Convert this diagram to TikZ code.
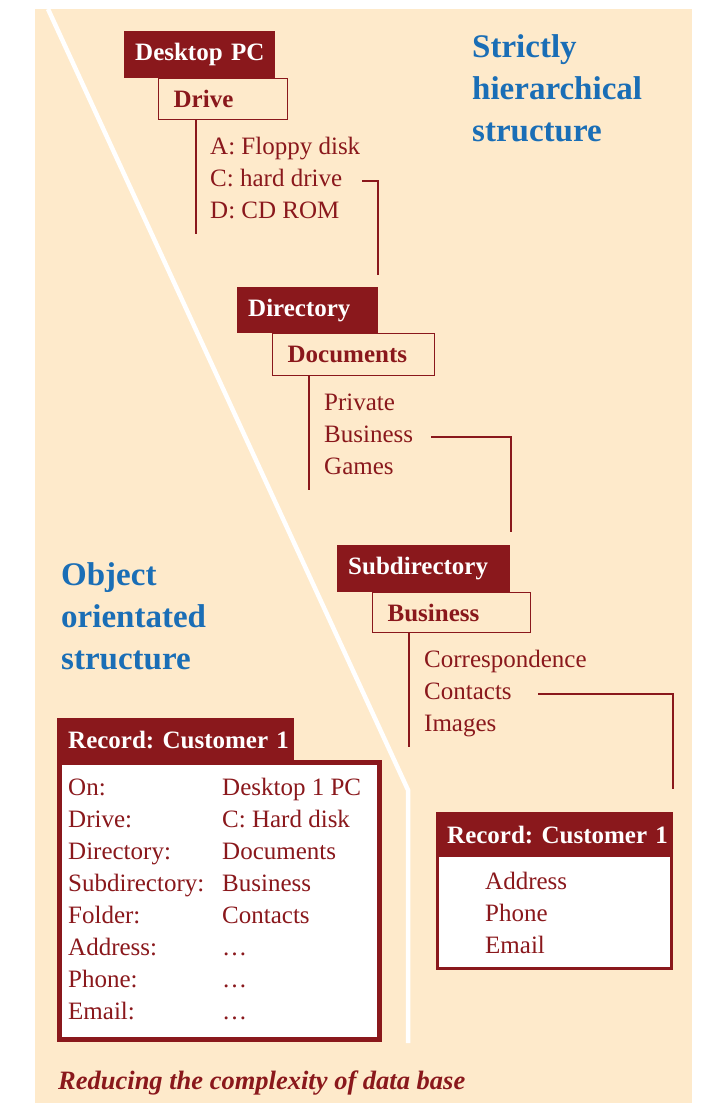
\documentclass[tikz,border=0pt]{standalone}
\usepackage{fontspec}
\setmainfont{Liberation Serif}
\definecolor{dred}{HTML}{8A181C}
\definecolor{bg}{HTML}{FEEACB}
\definecolor{tblue}{HTML}{1A6EB6}
\newcommand{\bodyf}{\fontsize{25}{30}\selectfont}
\newcommand{\titlef}{\fontsize{33}{40}\selectfont\bfseries}
\begin{document}
\frenchspacing
\begin{tikzpicture}[x=1pt,y=-1pt,
  hdr/.style={fill=dred, text=white, font=\bodyf\bfseries, anchor=north west, inner xsep=11pt, inner ysep=0pt, align=left},
  subbox/.style={draw=dred, line width=1.3pt, fill=bg, text=dred, font=\bodyf\bfseries, anchor=north west, inner xsep=15pt, inner ysep=0pt, align=left},
  item/.style={text=dred, font=\bodyf, anchor=base west, inner sep=0pt},
  ttl/.style={text=tblue, font=\titlef, anchor=base west, inner sep=0pt},
  ln/.style={draw=dred, line width=1.3pt}]
\useasboundingbox (0,0) rectangle (702,1103);
\fill[bg] (35,9) rectangle (692,1103);
\draw[white, line width=4.5pt] (48,9) -- (408,790) -- (408,1043);

% titles
\node[ttl] (t1) at (472,57) {Strictly};
\node[ttl] (t2) at (472,99) {hierarchical};
\node[ttl] (t3) at (472,141) {structure};
\node[ttl] (o1) at (61,585) {Object};
\node[ttl] (o2) at (61,627) {orientated};
\node[ttl] (o3) at (61,669) {structure};

% level 1
\node[subbox, text width=99pt, minimum height=41pt] (drive) at (158,78) {\mbox{Drive}};
\node[hdr, text width=129pt, minimum height=47pt] (pc) at (124,31) {\mbox{Desktop PC}};
\node[item] (a1) at (210,154) {A: Floppy disk};
\node[item] (a2) at (210,186) {C: hard drive};
\node[item] (a3) at (210,218) {D: CD ROM};
\coordinate (v1) at (196,234);
\draw[ln] (drive.south -| v1) -- (v1);

% level 2
\node[subbox, text width=132pt, minimum height=42pt] (docs) at (272,333) {\mbox{Documents}};
\node[hdr, text width=119pt, minimum height=46pt] (dir) at (237,287) {\mbox{Directory}};
\node[item] (b1) at (324,410) {Private};
\node[item] (b2) at (324,442) {Business};
\node[item] (b3) at (324,474) {Games};
\coordinate (v2) at (309,490);
\draw[ln] (docs.south -| v2) -- (v2);

% level 3
\node[subbox, text width=128pt, minimum height=40pt] (bus) at (372,592) {\mbox{Business}};
\node[hdr, text width=151pt, minimum height=47pt] (sub) at (337,545) {\mbox{Subdirectory}};
\node[item] (c1) at (424,667) {Correspondence};
\node[item] (c2) at (424,699) {Contacts};
\node[item] (c3) at (424,731) {Images};
\coordinate (v3) at (409,747);
\draw[ln] (bus.south -| v3) -- (v3);

% connectors
\coordinate (e1) at (378,275);
\coordinate (e2) at (511,532);
\coordinate (e3) at (673,789);
\coordinate (s1) at (362,181);
\coordinate (s2) at (431,437);
\coordinate (s3) at (538,694);
\draw[ln] (s1) -| (e1);
\draw[ln] (s2) -| (e2);
\draw[ln] (s3) -| (e3);

% right record
\draw[dred, line width=3pt, fill=white] (437.5,855) rectangle (671.5,968.5);
\node[hdr, text width=215pt, minimum height=45pt] (rec2) at (436,812) {\mbox{Record: Customer 1}};
\node[item] (d1) at (485,889) {Address};
\node[item] (d2) at (485,921) {Phone};
\node[item] (d3) at (485,953) {Email};

% left record
\draw[dred, line width=5pt, fill=white] (59.5,762) rectangle (379.5,1039.5);
\node[hdr, text width=215pt, minimum height=44pt] (rec1) at (57,718) {\mbox{Record: Customer 1}};
\foreach \i/\l/\v [evaluate=\i as \yy using 795+32*(\i-1)] in
  {1/On:/Desktop 1 PC, 2/Drive:/C: Hard disk, 3/Directory:/Documents, 4/Subdirectory:/Business,
   5/Folder:/Contacts, 6/Address:/\dots, 7/Phone:/\dots, 8/Email:/\dots}
  {\node[item] (l\i) at (68,\yy) {\l};
   \node[item] (r\i) at (222,\yy) {\v};}

% caption
\node[text=dred, font=\fontsize{26.5}{30}\selectfont\bfseries\itshape, anchor=base west, inner sep=0pt] (cap) at (58,1089) {Reducing the complexity of data base};
\end{tikzpicture}
\end{document}
